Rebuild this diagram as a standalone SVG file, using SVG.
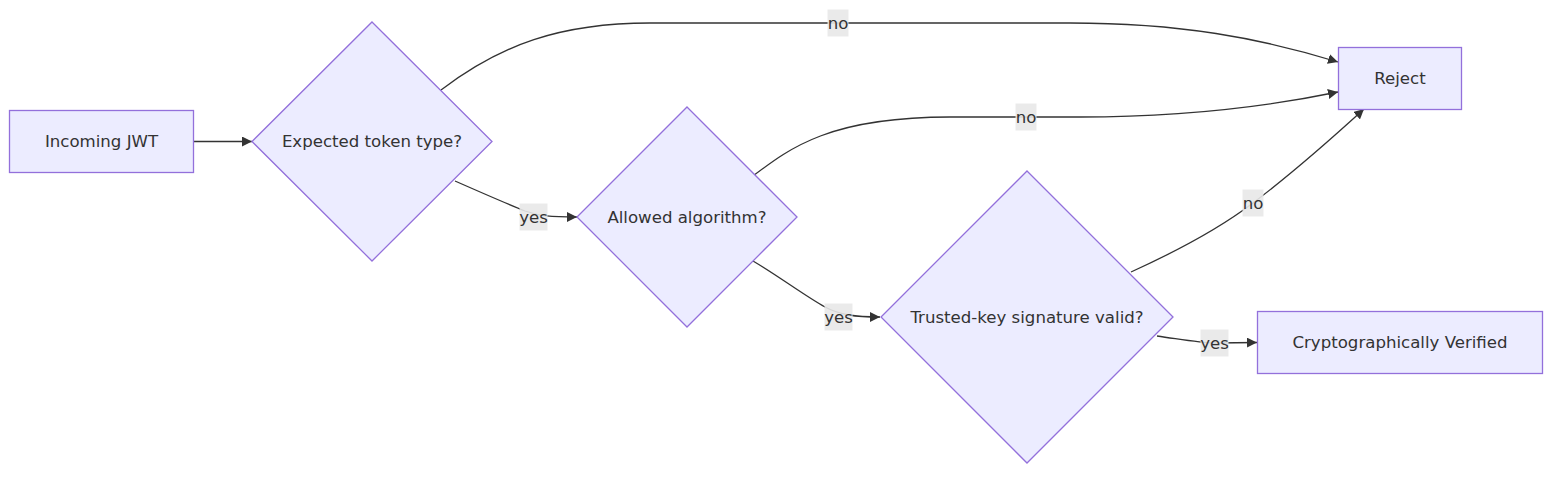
<svg xmlns="http://www.w3.org/2000/svg" width="1568" height="480" viewBox="0 0 1568 480">
<style>
  .node rect, .node polygon { fill: #ECECFF; stroke: #9370DB; stroke-width: 1.3; }
  .node text { font-family: "DejaVu Sans", "Liberation Sans", sans-serif; font-size: 16.6px; fill: #333333; text-anchor: middle; dominant-baseline: central; }
  .edge { fill: none; stroke: #333333; stroke-width: 1.3; }
  .lbl rect { fill: #e8e8e8; opacity: 0.9; }
  .lbl text { font-family: "DejaVu Sans", "Liberation Sans", sans-serif; font-size: 16.6px; fill: #333333; text-anchor: middle; dominant-baseline: central; }
</style>
<defs>
  <marker id="arrow" viewBox="0 0 10 10" refX="10" refY="5" markerWidth="10" markerHeight="10" markerUnits="userSpaceOnUse" orient="auto">
    <path d="M0,0 L10,5 L0,10 z" fill="#333333"/>
  </marker>
</defs>
<rect width="1568" height="480" fill="#ffffff"/>
<g id="connectors">
  <path class="edge" d="M193,141.5 L252,141.5" marker-end="url(#arrow)"/>
  <path class="edge" d="M441,90 C500,45 560,23 650,23 L1070,23 C1180,23 1260,38 1338,62" marker-end="url(#arrow)"/>
  <path class="edge" d="M753,176 C790,148 830,117 950,117 L1080,117 C1190,117 1270,106 1338,92" marker-end="url(#arrow)"/>
  <path class="edge" d="M455,181 C480,192 505,203 525,211 C540,216 550,217 577,217" marker-end="url(#arrow)"/>
  <path class="edge" d="M753,261 C780,277 805,296 825,307 C840,315 855,317 880,317" marker-end="url(#arrow)"/>
  <path class="edge" d="M1131,272 C1175,252 1220,228 1253,203 C1290,175 1330,140 1364,109" marker-end="url(#arrow)"/>
  <path class="edge" d="M1157,336 C1185,340 1200,343 1215,343 L1257,342.5" marker-end="url(#arrow)"/>
  <g class="lbl"><rect x="827.5" y="9.5" width="21" height="27"/><text x="838" y="23">no</text></g>
  <g class="lbl"><rect x="1015.5" y="103.5" width="21" height="27"/><text x="1026" y="117">no</text></g>
  <g class="lbl"><rect x="519.5" y="203.5" width="28" height="27"/><text x="533.5" y="217">yes</text></g>
  <g class="lbl"><rect x="824.5" y="303.5" width="28" height="27"/><text x="838.5" y="317">yes</text></g>
  <g class="lbl"><rect x="1242.5" y="189.5" width="21" height="27"/><text x="1253" y="203">no</text></g>
  <g class="lbl"><rect x="1200.5" y="329.5" width="28" height="27"/><text x="1214.5" y="343">yes</text></g>
</g>
<g id="incoming" class="node">
  <rect x="9.5" y="110.5" width="184" height="62"/>
  <text x="101.5" y="141.5">Incoming JWT</text>
</g>
<g id="expected" class="node">
  <polygon points="372,22 492,141.5 372,261 252,141.5"/>
  <text x="372" y="141.5">Expected token type?</text>
</g>
<g id="allowed" class="node">
  <polygon points="687,107 797,217 687,327 577,217"/>
  <text x="687" y="217">Allowed algorithm?</text>
</g>
<g id="trusted" class="node">
  <polygon points="1027,171 1173,317 1027,463 881,317"/>
  <text x="1027" y="317">Trusted-key signature valid?</text>
</g>
<g id="reject" class="node">
  <rect x="1338.5" y="47.5" width="123" height="62"/>
  <text x="1400" y="78.5">Reject</text>
</g>
<g id="verified" class="node">
  <rect x="1257.5" y="311.5" width="285" height="62"/>
  <text x="1400" y="342.5">Cryptographically Verified</text>
</g>
</svg>
